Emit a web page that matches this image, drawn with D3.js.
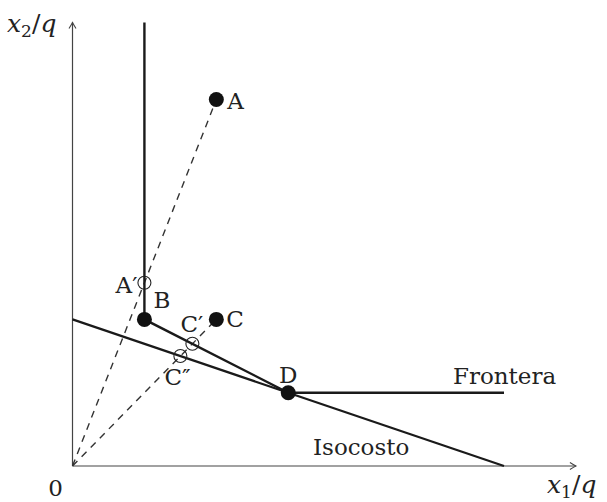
<!DOCTYPE html>
<html>
<head>
<meta charset="utf-8">
<script src="https://cdn.jsdelivr.net/npm/d3@7"></script>
<style>
  html, body { margin: 0; padding: 0; background: #fff; }
  svg { display: block; }
  text { font-family: "DejaVu Serif", "Liberation Serif", serif; fill: #222; }
</style>
</head>
<body>
<svg id="chart" width="607" height="502"></svg>
<script>
// ---- data (in diagram units) ----
const pointNames = ["A", "B", "C", "D"];
const pointX = [2, 1, 2, 3];
const pointY = [5, 2, 2, 1];

const frontierX = [1, 1, 3, 6];
const frontierY = [6.05, 2, 1, 1];

const isocostX = [0, 6];
const isocostY = [2, 0];

const rayTargets = ["A", "C"];

const openNames = ["A′", "C′", "C″"];
const openX = [1, 1.667, 1.5];
const openY = [2.5, 1.667, 1.5];

const axisMaxX = 7;
const axisMaxY = 6.05;

// ---- scales ----
const svg = d3.select("#chart");
const x = d3.scaleLinear().domain([0, 6]).range([72.5, 504]);
const y = d3.scaleLinear().domain([0, 6]).range([466, 26.2]);

// ---- axes ----
const axisColor = "#444";
svg.append("line").attr("x1", x(0)).attr("y1", y(0)).attr("x2", x(axisMaxX)).attr("y2", y(0))
  .attr("stroke", axisColor).attr("stroke-width", 1.2);
svg.append("line").attr("x1", x(0)).attr("y1", y(0)).attr("x2", x(0)).attr("y2", y(axisMaxY))
  .attr("stroke", axisColor).attr("stroke-width", 1.2);
// arrowheads
function arrow(tx, ty, dir) {
  const a = 6, b = 3.5;
  let p;
  if (dir === "right") p = `M${tx - a},${ty - b} Q${tx - 2},${ty - 1} ${tx},${ty} Q${tx - 2},${ty + 1} ${tx - a},${ty + b}`;
  else p = `M${tx - b},${ty + a} Q${tx - 1},${ty + 2} ${tx},${ty} Q${tx + 1},${ty + 2} ${tx + b},${ty + a}`;
  svg.append("path").attr("d", p).attr("fill", "none").attr("stroke", axisColor).attr("stroke-width", 1.1);
}
arrow(x(axisMaxX), y(0), "right");
arrow(x(0), y(axisMaxY), "up");

// ---- dashed rays from origin ----
rayTargets.forEach(n => {
  const i = pointNames.indexOf(n);
  svg.append("line")
    .attr("x1", x(0)).attr("y1", y(0))
    .attr("x2", x(pointX[i])).attr("y2", y(pointY[i]))
    .attr("stroke", "#333").attr("stroke-width", 1.4)
    .attr("stroke-dasharray", "7,6");
});

// ---- isocost ----
const line = d3.line().x(d => x(d[0])).y(d => y(d[1]));
svg.append("path").datum(d3.zip(isocostX, isocostY)).attr("d", line)
  .attr("fill", "none").attr("stroke", "#1a1a1a").attr("stroke-width", 2.2);

// ---- frontier ----
svg.append("path").datum(d3.zip(frontierX, frontierY)).attr("d", line)
  .attr("fill", "none").attr("stroke", "#1a1a1a").attr("stroke-width", 2.4)
  .attr("stroke-linejoin", "miter");

// ---- open circles ----
openNames.forEach((n, i) => {
  svg.append("circle").attr("cx", x(openX[i])).attr("cy", y(openY[i])).attr("r", 6.5)
    .attr("fill", "none").attr("stroke", "#222").attr("stroke-width", 1.1);
});

// ---- filled points ----
pointNames.forEach((n, i) => {
  svg.append("circle").attr("cx", x(pointX[i])).attr("cy", y(pointY[i])).attr("r", 7.5)
    .attr("fill", "#111");
});

// ---- labels ----
const fs = 23;
function label(txt, px, py, anchor) {
  svg.append("text").attr("x", px).attr("y", py).attr("text-anchor", anchor || "start")
    .attr("font-size", fs).attr("font-weight", 300).text(txt);
}
const P = n => { const i = pointNames.indexOf(n); return [x(pointX[i]), y(pointY[i])]; };
const O = n => { const i = openNames.indexOf(n); return [x(openX[i]), y(openY[i])]; };

label("A", P("A")[0] + 11, P("A")[1] + 9);
label("B", P("B")[0] + 9, P("B")[1] - 11);
label("C", P("C")[0] + 10, P("C")[1] + 8);
label("D", P("D")[0], P("D")[1] - 10, "middle");
label("A′", O("A′")[0] - 7, O("A′")[1] + 10, "end");
label("C′", O("C′")[0] - 12, O("C′")[1] - 12);
label("C″", O("C″")[0] - 16, O("C″")[1] + 29);
label("Frontera", 453, y(frontierY[3]) - 9);
label("Isocosto", 313, 455);
label("0", x(0) - 17, 496, "middle");

// axis titles (math italic)
function mathLabel(px, py, base, sub) {
  const t = svg.append("text").attr("x", px).attr("y", py).attr("font-size", 25);
  t.append("tspan").attr("font-style", "italic").text(base);
  t.append("tspan").attr("font-size", 17).attr("dy", 5).text(sub);
  t.append("tspan").attr("dy", -5).text("/");
  t.append("tspan").attr("font-style", "italic").text("q");
}
mathLabel(7, 32, "x", "2");
mathLabel(547, 493, "x", "1");
</script>
</body>
</html>
